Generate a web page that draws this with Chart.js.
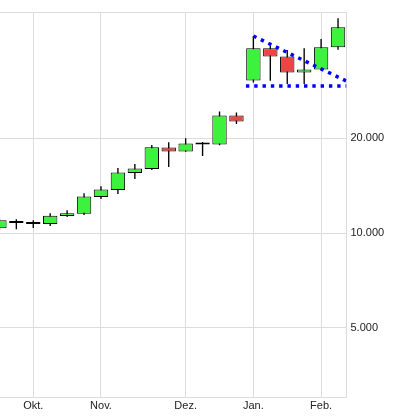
<!DOCTYPE html>
<html>
<head>
<meta charset="utf-8">
<script src="https://cdn.jsdelivr.net/npm/chart.js@4.4.0/dist/chart.umd.min.js"></script>
<style>
  html, body { margin: 0; padding: 0; background: #fff; }
</style>
</head>
<body>
<canvas id="kurs" width="395" height="418"></canvas>
<script>
// weekly candles, index 0 = first (cut off) week
const weeks = [0, 1, 2, 3, 4, 5, 6, 7, 8, 9, 10, 11, 12, 13, 14, 15, 16, 17, 18, 19, 20];
const opens  = [10354, 10760, 10682, 10682, 11326, 11524, 13014, 13702, 15510, 15976, 18684, 18144, 19100, 19100, 23614, 30510, 38560, 36366, 32350, 33072, 38844];
const closes = [10974, 10918, 10838, 11358, 11550, 13052, 13742, 15556, 16022, 18726, 18144, 19238, 19380, 23614, 22598, 38560, 36366, 32350, 33072, 38844, 44968];
const highs  = [11136, 11056, 10974, 11550, 11806, 13372, 14076, 16092, 16572, 19044, 19422, 20000, 19466, 24316, 24140, 42194, 40088, 38084, 38560, 41276, 48036];
const lows   = [10204, 10274, 10378, 10530, 11242, 11408, 12824, 13304, 14844, 15860, 16212, 18120, 17570, 19000, 22206, 30066, 30420, 29694, 29694, 33072, 38166];

// month ticks (week index) and labels
const monthWeeks  = [2, 6, 11, 15, 19];
const monthLabels = ['Okt.', 'Nov.', 'Dez.', 'Jan.', 'Feb.'];
const yTicks = [5000, 10000, 20000];

// blue dotted triangle
const trendTop = [{x: 15, y: 42194}, {x: 20.5, y: 30354}];
const trendBottom = [{x: 14.56, y: 29264}, {x: 20.5, y: 29264}];

const Y_MIN = 3000, Y_MAX = 50300;

function fmt(v) {
    return String(v).replace(/\B(?=(\d{3})+(?!\d))/g, '.');
}

const bodies = weeks.map((w, i) => ({x: w, y: [opens[i], closes[i]]}));
const wicks = weeks.map((w, i) => ({x: w, y: [lows[i], highs[i]]}));

new Chart(document.getElementById('kurs'), {
    type: 'bar',
    data: {
        datasets: [
            {
                type: 'line',
                data: trendTop,
                borderColor: '#0000ff',
                borderWidth: 3.5,
                borderDash: [3.4, 4.9],
                borderCapStyle: 'butt',
                pointRadius: 0,
                order: 0
            },
            {
                type: 'line',
                data: trendBottom,
                borderColor: '#0000ff',
                borderWidth: 3.5,
                borderDash: [3.4, 4.9],
                borderCapStyle: 'butt',
                pointRadius: 0,
                order: 0
            },
            {
                data: bodies,
                grouped: false,
                backgroundColor: ctx => (closes[ctx.dataIndex] >= opens[ctx.dataIndex]) ? '#3df23d' : '#f04444',
                borderColor: '#000',
                borderWidth: 1,
                borderSkipped: false,
                categoryPercentage: 1,
                barPercentage: 0.85,
                order: 1
            },
            {
                data: wicks,
                grouped: false,
                backgroundColor: '#000',
                borderWidth: 0,
                categoryPercentage: 1,
                barPercentage: 0.08,
                order: 2
            }
        ]
    },
    options: {
        responsive: false,
        animation: false,
        layout: { padding: { top: 12, bottom: 3, left: 0, right: 0 } },
        plugins: {
            legend: { display: false },
            tooltip: { enabled: false }
        },
        scales: {
            x: {
                type: 'linear',
                min: 0.035,
                max: 20.5,
                offset: false,
                grid: { offset: false, color: '#dcdcdc', drawTicks: false },
                border: { color: '#dcdcdc' },
                afterBuildTicks: scale => {
                    scale.ticks = monthWeeks.map(v => ({value: v}));
                },
                ticks: {
                    padding: 2,
                    color: '#222',
                    font: { family: 'Liberation Sans', size: 11 },
                    maxRotation: 0,
                    autoSkip: false,
                    callback: v => {
                        const k = monthWeeks.indexOf(v);
                        return k >= 0 ? monthLabels[k] : '';
                    }
                }
            },
            y: {
                type: 'logarithmic',
                position: 'right',
                min: Y_MIN,
                max: Y_MAX,
                grid: { color: '#dcdcdc', drawTicks: false },
                border: { color: '#dcdcdc' },
                afterBuildTicks: scale => {
                    scale.ticks = yTicks.concat([Y_MAX]).map(v => ({value: v}));
                },
                afterFit: scale => { scale.width = 48.5; },
                ticks: {
                    padding: 4,
                    color: '#222',
                    font: { family: 'Liberation Sans', size: 11 },
                    autoSkip: false,
                    callback: v => (v === Y_MAX ? '' : fmt(v))
                }
            }
        }
    }
});
</script>
</body>
</html>
